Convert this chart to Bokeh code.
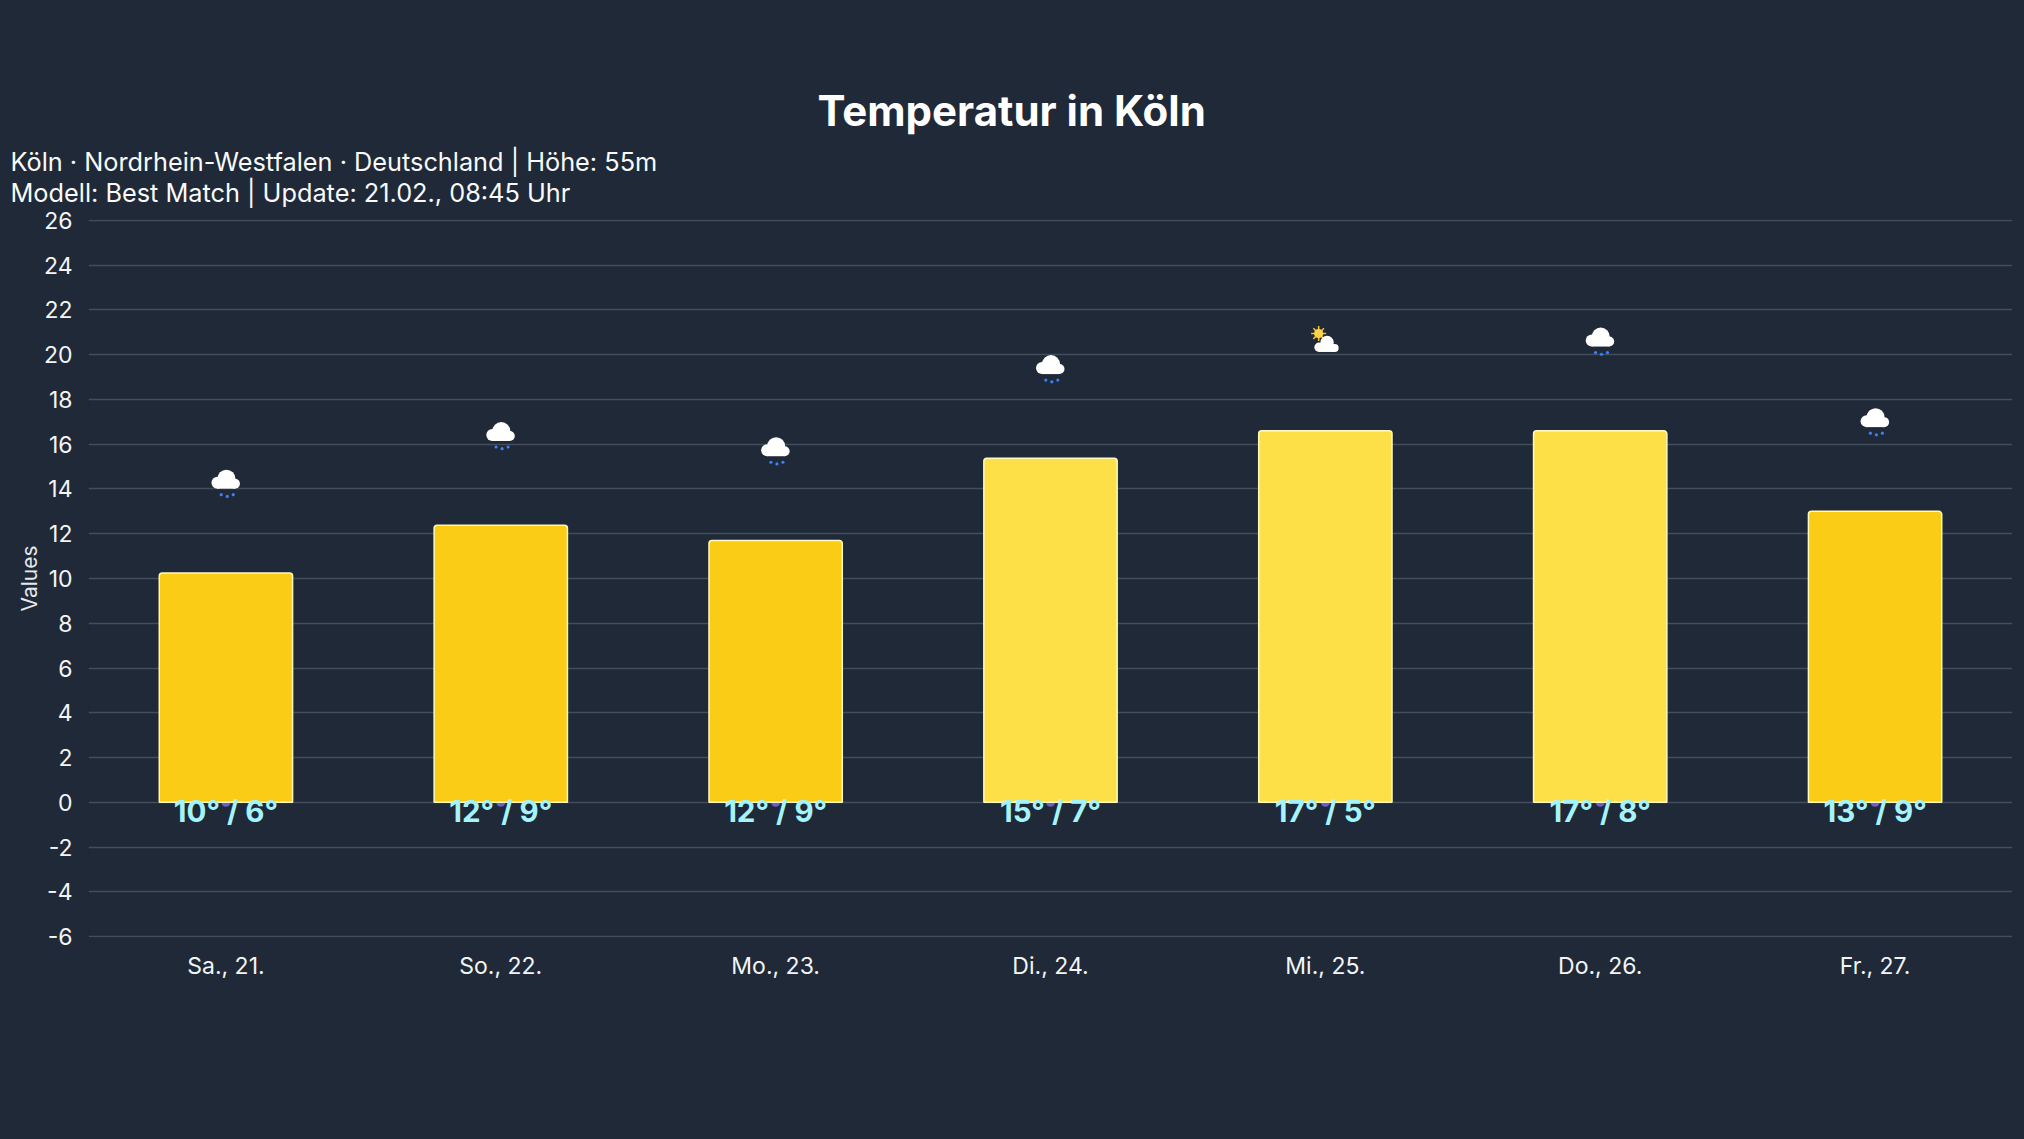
from urllib.parse import quote
from bokeh.embed import file_html
from bokeh.models import ColumnDataSource, FactorRange, FixedTicker, Range1d, Title
from bokeh.plotting import figure
from bokeh.resources import INLINE
from bokeh.core.properties import value

days = ["Sa., 21.", "So., 22.", "Mo., 23.", "Di., 24.", "Mi., 25.", "Do., 26.", "Fr., 27."]
temps = [10.25, 12.38, 11.7, 15.37, 16.6, 16.6, 13.0]
temp_labels = ["10° / 6°", "12° / 9°", "12° / 9°", "15° / 7°", "17° / 5°", "17° / 8°", "13° / 9°"]
bar_colors = ["#facc15", "#facc15", "#facc15", "#fde047", "#fde047", "#fde047", "#facc15"]
icon_kinds = ["rain", "rain", "rain", "rain", "sun", "rain", "rain"]
zero_points = [0, 0, 0, 0, 0, 0, 0]
y_ticks = list(range(-6, 28, 2))

BG = "#1f2937"
FONT = "Inter"

RAIN_SVG = (
    "<svg xmlns='http://www.w3.org/2000/svg' width='48' height='48' viewBox='-24 -24 48 48'>"
    "<g fill='#ffffff'><circle cx='0.5' cy='-4.7' r='9'/><circle cx='-8.5' cy='-0.7' r='6'/>"
    "<circle cx='9' cy='0.3' r='5'/><rect x='-8.5' y='-4' width='17.5' height='9.3'/></g>"
    "<g fill='#3b82f6'><circle cx='-4.7' cy='11.3' r='1.6'/><circle cx='1.3' cy='13' r='1.6'/>"
    "<circle cx='7.3' cy='11.3' r='1.6'/></g></svg>"
)
SUN_SVG = (
    "<svg xmlns='http://www.w3.org/2000/svg' width='48' height='48' viewBox='-24 -24 48 48'>"
    "<g transform='translate(-6.7 -7.7)' stroke='#fbbf24' stroke-width='1.6'>"
    "<path d='M0 -7.5V7.5M-7.5 0H7.5M-5.3 -5.3L5.3 5.3M-5.3 5.3L5.3 -5.3'/>"
    "<circle r='4.6' fill='#fcd34d' stroke='none'/></g>"
    "<g fill='#ffffff'><circle cx='1.7' cy='1.3' r='6.7'/><circle cx='-6.3' cy='6' r='4.7'/>"
    "<circle cx='9.3' cy='6.7' r='4'/><rect x='-6.3' y='3' width='15.6' height='7.7'/></g></svg>"
)
ICONS = {"rain": RAIN_SVG, "sun": SUN_SVG}

source = ColumnDataSource(dict(
    day=days, temp=temps, color=bar_colors, label=temp_labels, zero=zero_points,
    icon_y=[t + 4 for t in temps],
    url=["data:image/svg+xml;utf8," + quote(ICONS[k]) for k in icon_kinds],
))

p = figure(
    x_range=FactorRange(factors=days, range_padding=0),
    y_range=Range1d(-6.04, 26.04),
    width=2024, height=1139,
    frame_width=1924, frame_height=718,
    min_border_left=88, min_border_right=12, min_border_top=219, min_border_bottom=202,
    output_backend="svg", toolbar_location=None,
    background_fill_color=BG, border_fill_color=BG,
)
p.outline_line_color = None

p.xgrid.grid_line_color = None
p.ygrid.grid_line_color = "#434d5c"
p.ygrid.grid_line_width = 1.5
p.ygrid.ticker = FixedTicker(ticks=y_ticks)

p.yaxis.ticker = FixedTicker(ticks=y_ticks)
p.yaxis.major_label_overrides = {t: str(t) for t in y_ticks}
p.yaxis.axis_label = "Values"
p.yaxis.axis_label_text_font = FONT
p.yaxis.axis_label_text_font_style = "normal"
p.yaxis.axis_label_text_font_size = "21px"
p.yaxis.axis_label_text_color = "#e5e7eb"
p.yaxis.axis_label_standoff = -1
for ax in (p.xaxis, p.yaxis):
    ax.axis_line_color = None
    ax.major_tick_line_color = None
    ax.minor_tick_line_color = None
    ax.major_label_text_font = FONT
    ax.major_label_text_font_size = "23px"
    ax.major_label_text_color = "#f3f4f6"
p.yaxis.major_label_standoff = 10
p.xaxis.major_label_standoff = 8

p.scatter("day", "zero", source=source, size=9, color="#6d5bd0", line_color=None)
p.vbar(x="day", top="temp", bottom=0, width=0.485, source=source,
       fill_color="color", line_color="#fef9c3", line_width=1.5, border_radius=(3, 3, 0, 0))
p.text("day", "zero", text="label", source=source, text_align="center", text_baseline="middle",
       text_color="#a5f3fc", text_font=value(FONT), text_font_style="bold", text_font_size="29.5px",
       y_offset=9)
p.image_url(url="url", x="day", y="icon_y", w=48, h=48, w_units="screen", h_units="screen",
            anchor="center", source=source)

p.add_layout(Title(text="Köln · Nordrhein-Westfalen · Deutschland | Höhe: 55m\nModell: Best Match | Update: 21.02., 08:45 Uhr",
                   align="left", offset=-78, standoff=20, vertical_align="top", text_color="#f9fafb", text_font=FONT,
                   text_font_style="normal", text_font_size="25.3px", text_line_height=1.0), "above")
p.add_layout(Title(text="Temperatur in Köln", align="left", offset=729,
                   standoff=0, text_color="#ffffff", text_font=FONT, text_font_style="bold",
                   text_font_size="42px", text_line_height=0.5), "above")

html = file_html(p, INLINE)
html = html.replace("<head>", f"<head><style>html,body{{background:{BG};}}</style>", 1)
open("out.html", "w").write(html)
